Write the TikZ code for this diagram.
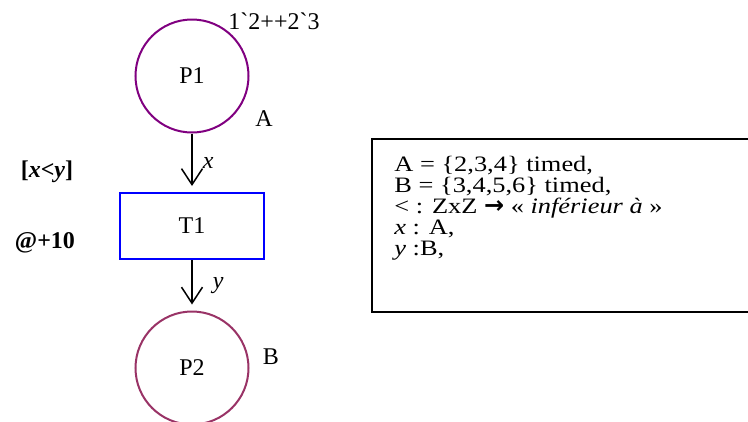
\documentclass[tikz,border=0pt]{standalone}
\usepackage{fontspec}
\setmainfont{Liberation Serif}
\newfontfamily\markfont{Liberation Serif}[Ligatures=TeXOff]
\newfontfamily\declfont{Liberation Serif}[FakeStretch=1.2,ItalicFont={Liberation Serif Italic}]
\newfontfamily\arrowfont{DejaVu Sans}
\usepackage{tikz}
\usetikzlibrary{arrows.meta}
\definecolor{placeone}{HTML}{800080}
\definecolor{placetwo}{HTML}{993366}
\begin{document}
\begin{tikzpicture}[x=1pt,y=-1pt,font=\fontsize{24}{21}\selectfont,
  place/.style={circle,draw,line width=2pt,minimum size=113pt,inner sep=0pt},
  trans/.style={rectangle,draw=blue,line width=2pt,minimum width=144pt,minimum height=66pt},
  arc/.style={line width=1.5pt,-{Straight Barb[length=16pt,width=21pt]},shorten >=6pt},
  declbox/.style={draw,line width=1.6pt,minimum width=390pt,minimum height=173pt,inner sep=0pt}]
\clip (0,0) rectangle (748,421);
\node[place,draw=placeone] (P1) at (192,76) {P1};
\node[trans] (T1) at (192,226) {T1};
\node[place,draw=placetwo] (P2) at (192,368) {P2};
\node[anchor=base] (mark) at (274,29) {\markfont 1`2++2`3};
\node[anchor=base] (colA) at (264,126) {A};
\node[anchor=base] (colB) at (271,364) {B};
\node[anchor=base] (guard) at (47,177) {\bfseries[\textit{x}<\textit{y}]};
\node[anchor=base] (delay) at (45,248) {\bfseries @+10};
\draw[arc] (P1) -- node[anchor=west,inner sep=0pt,xshift=10pt] (lx) {\textit{x}} (T1);
\draw[arc] (T1) -- node[anchor=west,inner sep=0pt,xshift=20pt] (ly) {\textit{y}} (P2);
\node[declbox] (decl) at (567,225.5) {};
\node[anchor=north west,align=left,inner sep=0pt,font=\fontsize{22}{21}\selectfont] (decltext) at ([shift={(23,18)}]decl.north west)
  {\declfont A = \{2,3,4\} timed,\\
   \declfont B = \{3,4,5,6\} timed,\\
   \declfont < : ZxZ {\arrowfont\bfseries\fontsize{24}{21}\selectfont →} « \textit{inférieur à} »\\
   \declfont\textit{x} : A,\\
   \declfont\textit{y} :B,};
\end{tikzpicture}
\end{document}
